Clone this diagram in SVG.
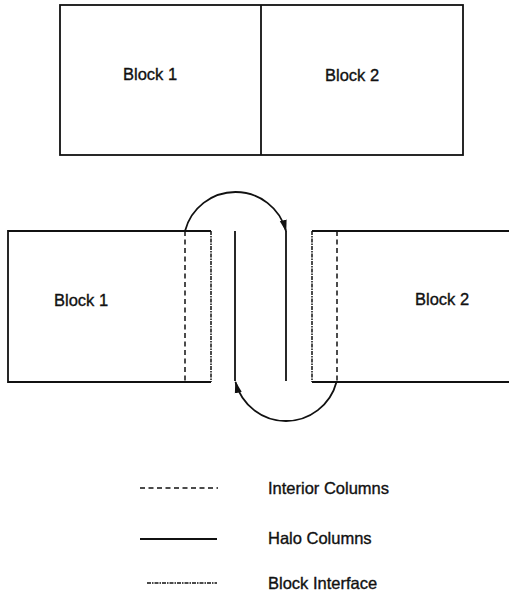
<svg xmlns="http://www.w3.org/2000/svg" width="509" height="595" viewBox="0 0 509 595">
<style>
text{font-family:"Liberation Sans",Arial,sans-serif;font-size:16.5px;fill:#111;stroke:#111;stroke-width:0.35}
.s{fill:none;stroke:#111;stroke-width:1.8}
.d{fill:none;stroke:#111;stroke-width:1.5;stroke-dasharray:5 3.5}
.i{fill:none;stroke:#111;stroke-width:1.5;stroke-dasharray:4 1 1.5 1}
</style>
<defs>
<marker id="ah" markerWidth="12" markerHeight="8" refX="11" refY="4" orient="auto" markerUnits="userSpaceOnUse">
<path d="M0,0.5 L12,4 L0,7.5 Z" fill="#111"/>
</marker>
</defs>
<g id="top-blocks">
<rect class="s" x="60" y="5" width="403" height="150"/>
<line class="s" x1="261" y1="5" x2="261" y2="155"/>
<text x="123" y="80">Block 1</text>
<text x="325" y="81">Block 2</text>
</g>
<g id="block1">
<path class="s" d="M211,231 H8 V382 H211"/>
<line class="i" x1="211" y1="231" x2="211" y2="382"/>
<line class="d" x1="185" y1="231" x2="185" y2="382"/>
<text x="54" y="306">Block 1</text>
</g>
<g id="block2">
<path class="s" d="M312,231 H509 M312,382 H509"/>
<line class="i" x1="312" y1="231" x2="312" y2="382"/>
<line class="d" x1="337" y1="231" x2="337" y2="382"/>
<text x="415" y="305">Block 2</text>
</g>
<g id="halo">
<line class="s" x1="235" y1="231" x2="235" y2="381"/>
<line class="s" x1="286" y1="231" x2="286" y2="381"/>
</g>
<g id="connectors">
<path class="s" d="M185,231 A52.2,52.2 0 0 1 286,231" marker-end="url(#ah)"/>
<path class="s" d="M336.5,382 A52.2,52.2 0 0 1 235.5,382" marker-end="url(#ah)"/>
</g>
<g id="legend">
<line class="d" x1="140" y1="488" x2="218" y2="488"/>
<text x="268" y="494">Interior Columns</text>
<line class="s" x1="140" y1="539" x2="217" y2="539"/>
<text x="268" y="544">Halo Columns</text>
<line class="i" x1="147" y1="583" x2="217" y2="583"/>
<text x="268" y="589">Block Interface</text>
</g>
</svg>
